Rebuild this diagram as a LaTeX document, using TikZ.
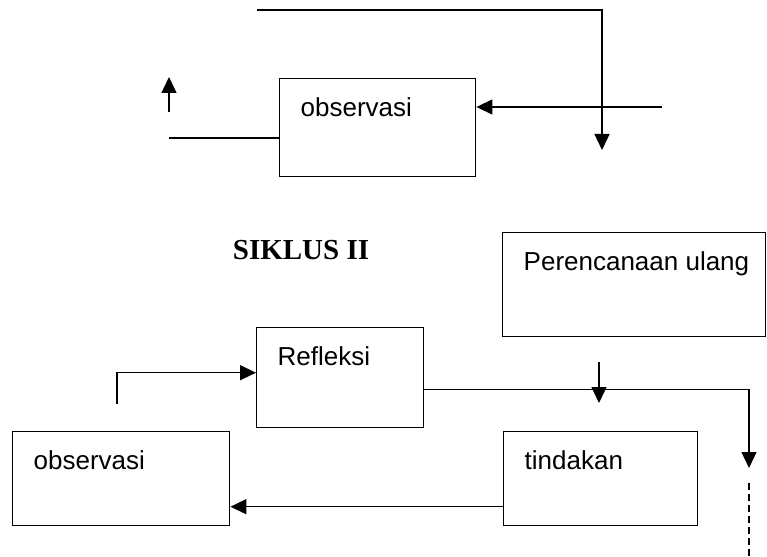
\documentclass[tikz,border=0pt]{standalone}
\usepackage{fontspec}
\setmainfont{Liberation Sans}
\newfontfamily\titlefont{Liberation Serif}
\usetikzlibrary{positioning, arrows.meta}

\begin{document}
\begin{tikzpicture}[
    x=1pt, y=-1pt,
    >={Triangle[length=16pt, width=15pt]},
    every path/.style = {line width=1.4pt},
    box/.style   = {rectangle, draw=black, line width=1.4pt, anchor=north west, inner sep=0pt},
    txt/.style   = {inner sep=0pt, font=\fontsize{26}{30}\selectfont},
    title/.style = {inner sep=0pt, font=\titlefont\bfseries\fontsize{29}{34}\selectfont},
]
\useasboundingbox (0,0) rectangle (767,556);

% upper part (end of first cycle)
\node[box, minimum width=196pt, minimum height=98pt] (obsA) at (279,78) {};
\node[txt, below right=19pt and 21pt of obsA.north west] (tObsA) {observasi};

\coordinate (topL)   at (257,10);
\coordinate (topEnd) at (602,150);
\coordinate (inA)    at (662,107);
\coordinate (outA)   at (169,138);
\coordinate (upS)    at (169,112);
\coordinate (upE)    at (169,77);

\draw[->] (topL) -| (topEnd);
\draw[->] (inA) -- (inA -| obsA.east);
\draw (outA) -- (outA -| obsA.west);
\draw[->] (upS) -- (upE);

% second cycle
\node[title] (siklus) at (301,250) {SIKLUS II};

\node[box, minimum width=263pt, minimum height=104pt] (plan) at (502,232) {};
\node[txt, below right=19pt and 21pt of plan.north west] (tPlan) {Perencanaan ulang};

\node[box, minimum width=167pt, minimum height=100pt] (refl) at (256,327) {};
\node[txt, below right=19pt and 21pt of refl.north west] (tRefl) {Refleksi};

\node[box, minimum width=217pt, minimum height=94pt] (obsB) at (12,431) {};
\node[txt, below right=19pt and 21pt of obsB.north west] (tObsB) {observasi};

\node[box, minimum width=194pt, minimum height=94pt] (tind) at (503,431) {};
\node[txt, below right=19pt and 21pt of tind.north west] (tTind) {tindakan};

\coordinate (obsUp)  at (117,404);
\coordinate (planS)  at (599,362);
\coordinate (planE)  at (599,403);
\coordinate (cycEnd) at (749,468);
\coordinate (dashS)  at (749,483);
\coordinate (dashE)  at (749,556);

% edges
\draw[->] (obsUp) |- ([yshift=5pt]refl.west);
\draw[->] ([yshift=-12pt]refl.east) -| (cycEnd);
\draw[->] (planS) -- (planE);
\draw[->] ([yshift=-28pt]tind.west) -- ([yshift=-28pt]obsB.east);
\draw[dash pattern=on 7pt off 4pt] (dashS) -- (dashE);

\end{tikzpicture}
\end{document}
